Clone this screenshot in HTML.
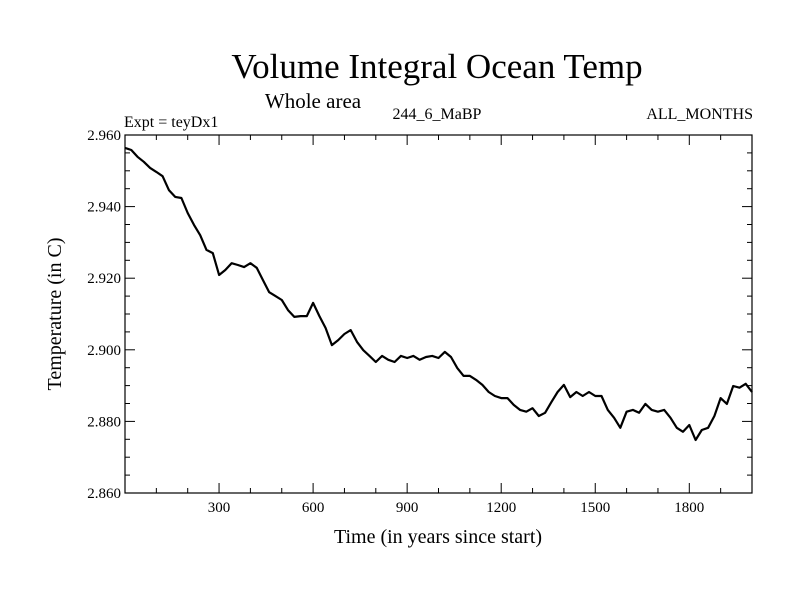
<!DOCTYPE html>
<html><head><meta charset="utf-8"><style>
body{margin:0;background:#fff;}
svg text{font-family:"Liberation Serif",serif;fill:#000;}
</style></head><body>
<svg id="chart" width="800" height="600">
<text x="437" y="78" font-size="35" text-anchor="middle">Volume Integral Ocean Temp</text>
<text x="313" y="108" font-size="21" text-anchor="middle">Whole area</text>
<text x="124" y="127" font-size="16">Expt = teyDx1</text>
<text x="437" y="119" font-size="16" text-anchor="middle">244_6_MaBP</text>
<text x="753" y="119" font-size="16" text-anchor="end">ALL_MONTHS</text>
<g id="axes"></g>
<text x="438" y="543" font-size="20" text-anchor="middle">Time (in years since start)</text>
<text transform="translate(61,314) rotate(-90)" font-size="20" text-anchor="middle">Temperature (in C)</text>
</svg>
<script>
const years=[];for(let i=0;i<=100;i++)years.push(i*20);
const temps=[2.9564,2.9558,2.9539,2.9525,2.9508,2.9497,2.9485,2.9446,2.9427,2.9424,2.9382,2.9349,2.932,2.9279,2.927,2.9209,2.9223,2.9242,2.9237,2.9231,2.9242,2.9229,2.9195,2.9161,2.915,2.9139,2.9111,2.9092,2.9094,2.9094,2.9131,2.9094,2.9061,2.9013,2.9027,2.9044,2.9055,2.9022,2.8999,2.8983,2.8966,2.8983,2.8972,2.8966,2.8983,2.8977,2.8983,2.8972,2.898,2.8983,2.8977,2.8994,2.898,2.8949,2.8927,2.8927,2.8916,2.8902,2.8882,2.8871,2.8865,2.8865,2.8846,2.8832,2.8827,2.8837,2.8815,2.8824,2.8854,2.8882,2.8902,2.8868,2.8882,2.8871,2.8882,2.8871,2.8871,2.8832,2.881,2.8782,2.8827,2.8832,2.8824,2.8849,2.8832,2.8827,2.8832,2.881,2.8782,2.8771,2.879,2.8748,2.8776,2.8782,2.8815,2.8865,2.8849,2.8899,2.8894,2.8905,2.8882];
const xTicks=[300,600,900,1200,1500,1800];
const yTicks=[2.86,2.88,2.90,2.92,2.94,2.96];
const X0=125,X1=752,Y0=135,Y1=493,xmin=0,xmax=2000,ymin=2.86,ymax=2.96;
const sx=v=>X0+(v-xmin)/(xmax-xmin)*(X1-X0);
const sy=v=>Y1-(v-ymin)/(ymax-ymin)*(Y1-Y0);
const NS='http://www.w3.org/2000/svg';
const g=document.getElementById('axes');
function mk(t,a){const e=document.createElementNS(NS,t);for(const k in a)e.setAttribute(k,a[k]);g.appendChild(e);return e;}
const frame=mk('rect',{x:X0,y:Y0,width:X1-X0,height:Y1-Y0,fill:'none',stroke:'#000','stroke-width':1.2});


for(let v=100;v<2000;v+=100){const major=v%300===0;const L=major?10:5;
 const t1=mk('line',{x1:sx(v),x2:sx(v),y1:Y1,y2:Y1-L,stroke:'#000'});
 
 
 const t2=mk('line',{x1:sx(v),x2:sx(v),y1:Y0,y2:Y0+L,stroke:'#000'});
 
 }
xTicks.forEach(v=>{const t=mk('text',{x:sx(v),y:Y1+19,'font-size':15,'text-anchor':'middle'});t.textContent=v;
 
 });
for(let i=1;i<20;i++){const v=ymin+i*0.005;const L=i%4===0?10:5;
 const t1=mk('line',{x1:X0,x2:X0+L,y1:sy(v),y2:sy(v),stroke:'#000'});
 
 
 const t2=mk('line',{x1:X1,x2:X1-L,y1:sy(v),y2:sy(v),stroke:'#000'});
 
 }
yTicks.forEach(v=>{const t=mk('text',{x:X0-4,y:sy(v)+5,'font-size':15,'text-anchor':'end'});t.textContent=v.toFixed(3);
 
 });
const d=years.map((y,i)=>(i?'L':'M')+sx(y).toFixed(1)+','+sy(temps[i]).toFixed(1)).join('');
const line=mk('path',{d:d,fill:'none',stroke:'#000','stroke-width':2.2,'stroke-linejoin':'round'});


</script>
</body></html>
